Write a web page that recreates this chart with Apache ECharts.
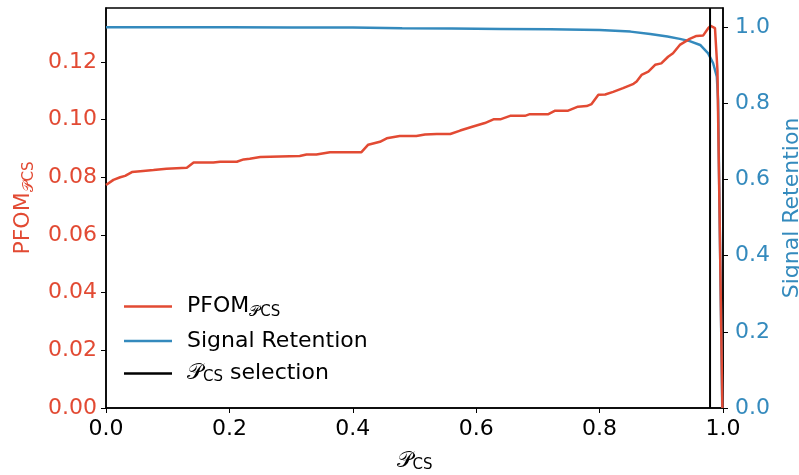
<!DOCTYPE html>
<html><head><meta charset="utf-8">
<script src="https://cdn.jsdelivr.net/npm/echarts@6/dist/echarts.min.js"></script>
<style>html,body{margin:0;padding:0;background:#fff}#c{width:799px;height:475px}</style>
</head><body><div id="c"></div>
<script>
const pfomX = [0.000,0.012,0.023,0.031,0.042,0.060,0.077,0.098,0.131,0.142,0.174,0.185,0.212,0.223,0.233,0.250,0.314,0.325,0.341,0.363,0.414,0.425,0.444,0.455,0.476,0.503,0.517,0.536,0.558,0.574,0.595,0.614,0.628,0.639,0.655,0.679,0.687,0.717,0.728,0.749,0.765,0.779,0.787,0.798,0.809,0.822,0.838,0.855,0.860,0.868,0.879,0.890,0.900,0.911,0.919,0.930,0.946,0.957,0.968,0.976,0.980,0.987,0.990,0.991,0.999];
const pfomY = [0.0773,0.0791,0.0800,0.0805,0.0818,0.0822,0.0825,0.0830,0.0833,0.0851,0.0851,0.0854,0.0854,0.0862,0.0864,0.0870,0.0874,0.0879,0.0879,0.0887,0.0887,0.0913,0.0923,0.0935,0.0943,0.0943,0.0948,0.0950,0.0950,0.0962,0.0976,0.0988,0.1001,0.1001,0.1013,0.1013,0.1019,0.1019,0.1031,0.1031,0.1045,0.1047,0.1054,0.1086,0.1087,0.1096,0.1109,0.1124,0.1132,0.1155,0.1166,0.1190,0.1195,0.1218,0.1230,0.1259,0.1280,0.1290,0.1292,0.1317,0.1325,0.1317,0.1311,0.1172,0.0000];
const retX = [0.000,0.100,0.200,0.300,0.400,0.480,0.560,0.640,0.720,0.800,0.850,0.882,0.910,0.930,0.946,0.963,0.976,0.984,0.990,0.992,0.9988];
const retY = [0.9997,0.9995,0.9993,0.9990,0.9985,0.9970,0.9960,0.9950,0.9940,0.9920,0.9880,0.9820,0.9750,0.9690,0.9630,0.9530,0.9310,0.9050,0.8700,0.8080,0.0000];
const selectionX = 0.979;
const xTicks = [0.0,0.2,0.4,0.6,0.8,1.0];
const leftTicks = [0.00,0.02,0.04,0.06,0.08,0.10,0.12];
const rightTicks = [0.0,0.2,0.4,0.6,0.8,1.0];
const names = ['PFOM', 'Signal Retention', 'selection'];

const RED = '#E24A33', BLUE = '#348ABD';
const FONT = 'DejaVu Sans';
const FS = 22, SUB = 15;
const P = '\u{1D4AB}';
function rich(color) {
  return {
    t: {fontSize: FS, fontFamily: FONT, color: color, lineHeight: 26},
    s: {fontSize: SUB, fontFamily: FONT, color: color, padding: [12, 0, 0, 0], lineHeight: 26},
    c: {fontSize: FS, fontFamily: FONT, color: color, lineHeight: 26},
    cs: {fontSize: SUB, fontFamily: FONT, color: color, padding: [8, 0, 0, 0], lineHeight: 26}
  };
}

const chart = echarts.init(document.getElementById('c'), null, {renderer: 'canvas'});
const axisLine = {show: true, lineStyle: {color: '#000', width: 1.5}};
const tickStyle = {show: true, inside: false, length: 5, lineStyle: {color: '#000', width: 1}};
chart.setOption({
  animation: false,
  textStyle: {fontFamily: FONT},
  grid: {left: 106, right: 76, top: 8, bottom: 67, show: true, borderColor: '#000', borderWidth: 1.5,
         containLabel: false, outerBoundsMode: 'none'},
  legend: {
    orient: 'vertical', left: 119, top: 288, itemGap: 10, itemWidth: 48, itemHeight: 2.5, icon: 'rect',
    textStyle: {fontSize: FS, color: '#000', fontFamily: FONT, padding: [0, 0, 0, 10], rich: rich('#000')},
    formatter: function(n){
      if (n === names[0]) return '{t|PFOM}{s|' + P + 'CS}';
      if (n === names[2]) return '{c|' + P + '}{cs|CS}{t| selection}';
      return '{t|' + n + '}';
    },
    data: names
  },
  xAxis: {
    type: 'value', min: 0, max: 1, interval: 0.2,
    axisLine: axisLine, splitLine: {show: false},
    axisTick: Object.assign({}, tickStyle, {customValues: xTicks}),
    axisLabel: {customValues: xTicks, fontSize: FS, color: '#000', margin: 10, fontFamily: FONT,
      formatter: v => v.toFixed(1)},
    name: '{c|' + P + '}{cs|CS}', nameLocation: 'middle', nameGap: 40,
    nameTextStyle: {color: '#000', rich: rich('#000')}
  },
  yAxis: [{
    type: 'value', min: 0, max: 0.1387,
    axisLine: axisLine, splitLine: {show: false},
    axisTick: Object.assign({}, tickStyle, {customValues: leftTicks}),
    axisLabel: {customValues: leftTicks, fontSize: FS, color: RED, margin: 9, fontFamily: FONT,
      formatter: v => v.toFixed(2)},
    name: '{t|PFOM}{s|' + P + 'CS}', nameLocation: 'middle', nameGap: 70, nameRotate: 90,
    nameTextStyle: {color: RED, rich: rich(RED)}
  }, {
    type: 'value', min: 0, max: 1.05, position: 'right',
    axisLine: axisLine, splitLine: {show: false},
    axisTick: Object.assign({}, tickStyle, {customValues: rightTicks}),
    axisLabel: {customValues: rightTicks, fontSize: FS, color: BLUE, margin: 12, fontFamily: FONT,
      formatter: v => v.toFixed(1)},
    name: 'Signal Retention', nameLocation: 'middle', nameGap: 54, nameRotate: 90,
    nameTextStyle: {color: BLUE, fontSize: FS, fontFamily: FONT}
  }],
  series: [{
    name: names[0], type: 'line', yAxisIndex: 0, symbol: 'none', z: 3,
    lineStyle: {color: RED, width: 2.5}, itemStyle: {color: RED},
    data: pfomX.map((x, i) => [x, pfomY[i]])
  }, {
    name: names[1], type: 'line', yAxisIndex: 1, symbol: 'none', z: 2,
    lineStyle: {color: BLUE, width: 2.5}, itemStyle: {color: BLUE},
    data: retX.map((x, i) => [x, retY[i]])
  }, {
    name: names[2], type: 'line', yAxisIndex: 1, symbol: 'none', z: 4,
    lineStyle: {color: '#000', width: 2}, itemStyle: {color: '#000'},
    data: [[selectionX, 0], [selectionX, 1.05]]
  }]
});
</script></body></html>
